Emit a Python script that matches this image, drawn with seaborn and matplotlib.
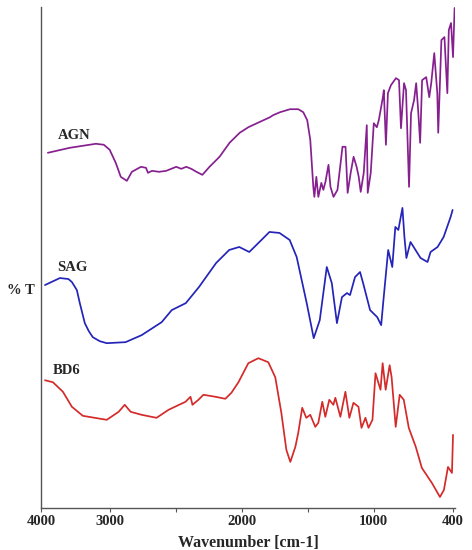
import numpy as np
import pandas as pd
import matplotlib
matplotlib.use("Agg")
from matplotlib import pyplot as plt
import seaborn as sns

# FTIR spectra (wavenumber cm-1, %T arbitrary offset)
agn_wn = [3900, 3580, 3200, 3085, 3000, 2954, 2916, 2870, 2832, 2763, 2725, 2710, 2679, 2626, 2572,
          2496, 2458, 2420, 2382, 2343, 2298, 2244, 2168, 2092, 2015, 1950, 1885, 1786, 1763,
          1710, 1634, 1572, 1534, 1504, 1481, 1458, 1450, 1435, 1420, 1397, 1382, 1366,
          1343, 1328, 1305, 1275, 1237, 1214, 1198, 1175, 1153, 1130, 1114, 1099, 1076,
          1053, 1046, 1023, 1000, 977, 962, 931, 924, 908, 893, 870, 832, 809, 794, 771,
          756, 733, 718, 695, 679, 664, 649, 634, 603, 580, 565, 542, 519, 512, 488, 465,
          443, 432, 415, 400, 388]
agn_t = [70.9, 71.9, 72.7, 72.5, 71.5, 68.9, 66.1, 65.3, 67.1, 68.1, 67.9, 66.9, 67.3, 67.1, 67.3,
         68.1, 67.7, 68.1, 67.7, 67.1, 66.5, 68.1, 70.1, 72.9, 74.9, 76.0, 76.8, 78.0, 78.4,
         79.0, 79.6, 79.6, 79.0, 77.4, 73.5, 64.1, 62.1, 66.1, 62.1, 64.9, 63.5, 65.1,
         68.5, 64.1, 62.1, 63.5, 72.1, 72.1, 62.9, 66.9, 70.1, 68.1, 66.1, 63.1, 66.9,
         76.4, 62.9, 66.9, 76.8, 76.0, 77.4, 82.0, 83.4, 72.5, 82.8, 84.4, 85.8, 85.4, 75.8, 84.8,
         83.4, 64.1, 78.8, 81.4, 84.8, 79.4, 72.9, 85.4, 86.0, 82.0, 84.8, 90.8, 82.8, 74.9, 93.4, 94.0,
         82.8, 95.4, 96.8, 90.0, 99.8]

sag_wn = [3942, 3725, 3600, 3550, 3478, 3435, 3362, 3304, 3246, 3145, 3043, 2880, 2758, 2606, 2530, 2423,
          2324, 2194, 2095, 2019, 1943, 1866, 1790, 1714, 1637, 1584, 1508, 1455, 1409,
          1356, 1318, 1279, 1241, 1203, 1180, 1142, 1104, 1081, 1028, 974, 944, 929, 891,
          860, 837, 814, 783, 768, 753, 722, 684, 646, 593, 570, 517, 471, 418, 403]
sag_t = [44.5, 45.9, 45.7, 45.1, 43.5, 40.9, 36.9, 35.3, 34.1, 33.3, 32.9, 33.1, 34.5, 37.1, 39.5, 40.9,
         44.1, 48.9, 51.5, 52.1, 51.1, 53.1, 55.1, 54.9, 53.5, 50.1, 40.9, 33.9, 37.5,
         48.1, 44.9, 36.9, 42.1, 42.9, 42.5, 46.1, 47.1, 44.9, 39.5, 38.1, 36.5, 40.9, 51.5,
         48.1, 56.1, 55.5, 59.9, 54.1, 49.9, 53.1, 51.5, 49.9, 49.1, 51.1, 52.1, 54.1, 58.1, 59.5]

bd6_wn = [3942, 3826, 3681, 3550, 3391, 3043, 2932, 2886, 2841, 2758, 2645, 2554, 2426,
          2388, 2373, 2328, 2290, 2199, 2124, 2078, 2025, 1950, 1874, 1799, 1746, 1700,
          1662, 1632, 1594, 1572, 1542, 1511, 1481, 1443, 1420, 1390, 1367, 1337, 1306,
          1291, 1253, 1215, 1185, 1154, 1116, 1093, 1063, 1040, 1010, 987, 949, 933, 910,
          880, 865, 834, 804, 773, 735, 682, 636, 560, 499, 469, 438, 408, 400]
bd6_t = [25.5, 25.1, 23.2, 20.2, 18.4, 17.6, 19.2, 20.6, 19.2, 18.6, 18.0, 19.6, 21.2,
         22.2, 20.6, 21.6, 22.6, 22.2, 21.8, 23.0, 25.1, 28.9, 29.9, 29.1, 26.1, 19.0,
         11.6, 9.2, 12.2, 15.0, 20.0, 18.0, 18.6, 16.2, 17.0, 21.2, 18.2, 21.6, 20.6,
         22.0, 18.2, 23.2, 18.0, 21.0, 20.2, 16.0, 18.0, 16.0, 17.6, 26.9, 23.6, 28.9, 23.6,
         28.5, 26.1, 16.2, 22.6, 21.6, 16.0, 12.2, 8.0, 5.0, 2.2, 3.6, 8.2, 7.0, 14.6]

names = ["AGN", "SAG", "BD6"]
colors = ["#86208f", "#2424b8", "#d42a2a"]
label_pos = [(3753, 74.3), (3768, 48.1), (3826, 27.5)]
tick_vals = [4000, 3000, 2000, 1000, 400]

sns.set_style("white")
plt.rcParams["font.family"] = ["Liberation Serif", "DejaVu Serif"]

fig = plt.figure(figsize=(4.72, 5.5), dpi=100)
ax = fig.add_axes([41 / 472, 1 - 508 / 550, 414 / 472, 501 / 550])

# spectrometer axis: 4000-3000 region compressed
r = 0.52
def fwd(x):
    x = np.asarray(x, dtype=float)
    return np.where(x <= 3000, x, 3000 + (x - 3000) * r)
def inv(u):
    u = np.asarray(u, dtype=float)
    return np.where(u <= 3000, u, 3000 + (u - 3000) / r)

ax.set_xscale("function", functions=(fwd, inv))

for wn, t, c in zip([agn_wn, sag_wn, bd6_wn], [agn_t, sag_t, bd6_t], colors):
    df = pd.DataFrame({"wn": wn, "t": t})
    sns.lineplot(data=df, x="wn", y="t", color=c, lw=1.25, sort=False, ax=ax)

for n, (lx, ly) in zip(names, label_pos):
    ax.text(lx, ly, n, ha="left", va="center", fontsize=10.5, fontweight="bold")

ax.set_xlim(4000, 385)
ax.set_ylim(0, 100)
ax.set_xticks(tick_vals)
ax.set_xticklabels([str(v) for v in tick_vals], fontsize=10.5, fontweight="bold")
ax.set_xticks([2500, 1500], minor=True)
ax.tick_params(axis="x", which="both", direction="out", length=3, width=0.8,
               pad=2, bottom=True, color="#555555")
ax.set_yticks([])
ax.set_xlabel("Wavenumber [cm-1]", fontsize=11.5, fontweight="bold", labelpad=5)
ax.set_ylabel("% T", fontsize=10.5, fontweight="bold", rotation=0)
ax.yaxis.set_label_coords(-0.048, 0.435)
ax.yaxis.label.set_va("center")
ax.yaxis.label.set_ha("center")

for s in ["top", "right"]:
    ax.spines[s].set_visible(False)
for s in ["left", "bottom"]:
    ax.spines[s].set_color("#555555")
    ax.spines[s].set_linewidth(1.0)

fig.savefig("out.png", dpi=100)
